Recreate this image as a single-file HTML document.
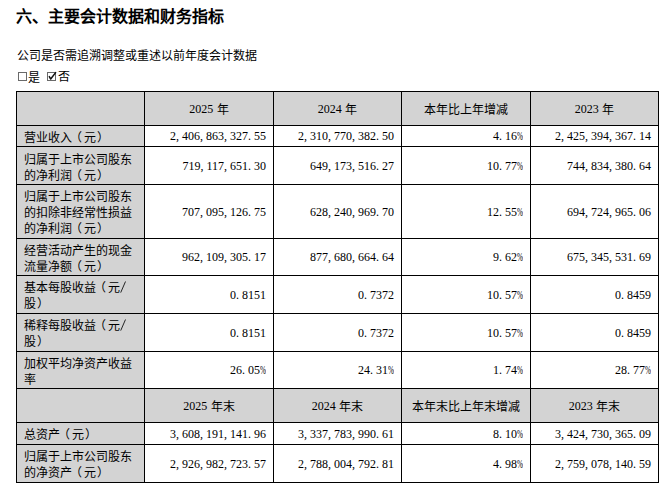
<!DOCTYPE html>
<html lang="zh-CN"><head><meta charset="utf-8"><title>主要会计数据和财务指标</title>
<style>
html,body{margin:0;padding:0;background:#fff;}
body{width:669px;height:491px;overflow:hidden;position:relative;font-family:"Liberation Serif",serif;font-size:12px;color:#000;}
.title{position:absolute;left:16px;top:7px;font-family:"Liberation Sans",sans-serif;font-weight:bold;font-size:16px;line-height:20px;white-space:nowrap;}
.sub{position:absolute;left:17px;top:48px;line-height:16px;white-space:nowrap;}
.chk{position:absolute;left:0;top:69px;width:100px;height:16px;line-height:16px;white-space:nowrap;}
.chk span{position:absolute;top:0;}
.bx{position:absolute;top:3px;width:7px;height:7px;border:1px solid #6a6a6a;}
.bx svg{position:absolute;left:-1px;top:-1px;overflow:visible;}
table{position:absolute;left:16px;top:91px;border-collapse:separate;border-spacing:0;table-layout:fixed;width:643px;border-left:1px solid #000;border-top:1px solid #000;}
td{border-right:1px solid #000;border-bottom:1px solid #000;padding:0 7px 0 7px;line-height:16px;vertical-align:middle;white-space:nowrap;overflow:hidden;}
td.g{background:#d3d3d3;}
td.ctr{text-align:center;}
td.n{text-align:right;}
i{font-style:normal;}
.lp{position:relative;left:-2px;}
.rp{position:relative;left:1px;}
i.sl{display:inline-block;width:6px;height:12px;position:relative;vertical-align:-2px;}
i.sl svg{position:absolute;left:0;top:-1px;}
.sh{position:relative;display:inline-block;}
.hc{position:relative;top:1px;}
i.c{display:inline-block;width:6px;text-align:left;}
i.pc{display:inline-block;width:6px;overflow:visible;}
i.pc b{display:inline-block;font-weight:normal;transform:scaleX(0.6);transform-origin:0 0;}
i.sp{display:inline-block;width:3.5px;}
</style></head><body>
<div class="title">六、主要会计数据和财务指标</div>
<div class="sub">公司是否需追溯调整或重述以前年度会计数据</div>
<div class="chk"><i class="bx" style="left:18px"></i><span style="left:28px;top:1px">是</span><i class="bx" style="left:47px"><svg width="9" height="9" viewBox="0 0 9 9"><path d="M2.3 4.6 L3.7 7 L8.6 0.6" fill="none" stroke="#111" stroke-width="1.5" stroke-linecap="round" stroke-linejoin="round"/></svg></i><span style="left:58px">否</span></div>
<table>
<colgroup><col style="width:128px"><col style="width:129px"><col style="width:128px"><col style="width:129px"><col style="width:128px"></colgroup>
<tr style="height:34px"><td class="g ctr"></td><td class="g ctr">2025<i class="sp"></i><span class="hc">年</span></td><td class="g ctr">2024<i class="sp"></i><span class="hc">年</span></td><td class="g ctr"><span class="hc">本年比上年增减</span></td><td class="g ctr">2023<i class="sp"></i><span class="hc">年</span></td></tr>
<tr style="height:21px"><td class="g lab"><span class="sh" style="top:2px">营业收入<span class="lp">（</span>元<span class="rp">）</span></span></td><td class="n">2<i class="c">,</i>406<i class="c">,</i>863<i class="c">,</i>327<i class="c">.</i>55</td><td class="n">2<i class="c">,</i>310<i class="c">,</i>770<i class="c">,</i>382<i class="c">.</i>50</td><td class="n">4<i class="c">.</i>16<i class="pc"><b>%</b></i></td><td class="n">2<i class="c">,</i>425<i class="c">,</i>394<i class="c">,</i>367<i class="c">.</i>14</td></tr>
<tr style="height:38px"><td class="g lab"><span class="sh" style="top:2px">归属于上市公司股东<br>的净利润<span class="lp">（</span>元<span class="rp">）</span></span></td><td class="n">719<i class="c">,</i>117<i class="c">,</i>651<i class="c">.</i>30</td><td class="n">649<i class="c">,</i>173<i class="c">,</i>516<i class="c">.</i>27</td><td class="n">10<i class="c">.</i>77<i class="pc"><b>%</b></i></td><td class="n">744<i class="c">,</i>834<i class="c">,</i>380<i class="c">.</i>64</td></tr>
<tr style="height:54px"><td class="g lab"><span class="sh" style="top:1px">归属于上市公司股东<br>的扣除非经常性损益<br>的净利润<span class="lp">（</span>元<span class="rp">）</span></span></td><td class="n">707<i class="c">,</i>095<i class="c">,</i>126<i class="c">.</i>75</td><td class="n">628<i class="c">,</i>240<i class="c">,</i>969<i class="c">.</i>70</td><td class="n">12<i class="c">.</i>55<i class="pc"><b>%</b></i></td><td class="n">694<i class="c">,</i>724<i class="c">,</i>965<i class="c">.</i>06</td></tr>
<tr style="height:37px"><td class="g lab"><span class="sh" style="top:2px">经营活动产生的现金<br>流量净额<span class="lp">（</span>元<span class="rp">）</span></span></td><td class="n">962<i class="c">,</i>109<i class="c">,</i>305<i class="c">.</i>17</td><td class="n">877<i class="c">,</i>680<i class="c">,</i>664<i class="c">.</i>64</td><td class="n">9<i class="c">.</i>62<i class="pc"><b>%</b></i></td><td class="n">675<i class="c">,</i>345<i class="c">,</i>531<i class="c">.</i>69</td></tr>
<tr style="height:38px"><td class="g lab"><span class="sh" style="top:1px">基本每股收益<span class="lp">（</span>元<i class="sl"><svg width="6" height="12" viewBox="0 0 6 12"><path d="M0.7 11.6 L5.5 0.5" stroke="#111" stroke-width="0.9" fill="none"/></svg></i><br>股<span class="rp">）</span></span></td><td class="n">0<i class="c">.</i>8151</td><td class="n">0<i class="c">.</i>7372</td><td class="n">10<i class="c">.</i>57<i class="pc"><b>%</b></i></td><td class="n">0<i class="c">.</i>8459</td></tr>
<tr style="height:38px"><td class="g lab"><span class="sh" style="top:1px">稀释每股收益<span class="lp">（</span>元<i class="sl"><svg width="6" height="12" viewBox="0 0 6 12"><path d="M0.7 11.6 L5.5 0.5" stroke="#111" stroke-width="0.9" fill="none"/></svg></i><br>股<span class="rp">）</span></span></td><td class="n">0<i class="c">.</i>8151</td><td class="n">0<i class="c">.</i>7372</td><td class="n">10<i class="c">.</i>57<i class="pc"><b>%</b></i></td><td class="n">0<i class="c">.</i>8459</td></tr>
<tr style="height:37px"><td class="g lab"><span class="sh" style="top:2px">加权平均净资产收益<br>率</span></td><td class="n">26<i class="c">.</i>05<i class="pc"><b>%</b></i></td><td class="n">24<i class="c">.</i>31<i class="pc"><b>%</b></i></td><td class="n">1<i class="c">.</i>74<i class="pc"><b>%</b></i></td><td class="n">28<i class="c">.</i>77<i class="pc"><b>%</b></i></td></tr>
<tr style="height:34px"><td class="g ctr"></td><td class="g ctr">2025<i class="sp"></i><span class="hc">年末</span></td><td class="g ctr">2024<i class="sp"></i><span class="hc">年末</span></td><td class="g ctr"><span class="hc">本年末比上年末增减</span></td><td class="g ctr">2023<i class="sp"></i><span class="hc">年末</span></td></tr>
<tr style="height:22px"><td class="g lab"><span class="sh" style="top:1px">总资产<span class="lp">（</span>元<span class="rp">）</span></span></td><td class="n">3<i class="c">,</i>608<i class="c">,</i>191<i class="c">,</i>141<i class="c">.</i>96</td><td class="n">3<i class="c">,</i>337<i class="c">,</i>783<i class="c">,</i>990<i class="c">.</i>61</td><td class="n">8<i class="c">.</i>10<i class="pc"><b>%</b></i></td><td class="n">3<i class="c">,</i>424<i class="c">,</i>730<i class="c">,</i>365<i class="c">.</i>09</td></tr>
<tr style="height:38px"><td class="g lab"><span class="sh" style="top:1px">归属于上市公司股东<br>的净资产<span class="lp">（</span>元<span class="rp">）</span></span></td><td class="n">2<i class="c">,</i>926<i class="c">,</i>982<i class="c">,</i>723<i class="c">.</i>57</td><td class="n">2<i class="c">,</i>788<i class="c">,</i>004<i class="c">,</i>792<i class="c">.</i>81</td><td class="n">4<i class="c">.</i>98<i class="pc"><b>%</b></i></td><td class="n">2<i class="c">,</i>759<i class="c">,</i>078<i class="c">,</i>140<i class="c">.</i>59</td></tr>
</table>
</body></html>
